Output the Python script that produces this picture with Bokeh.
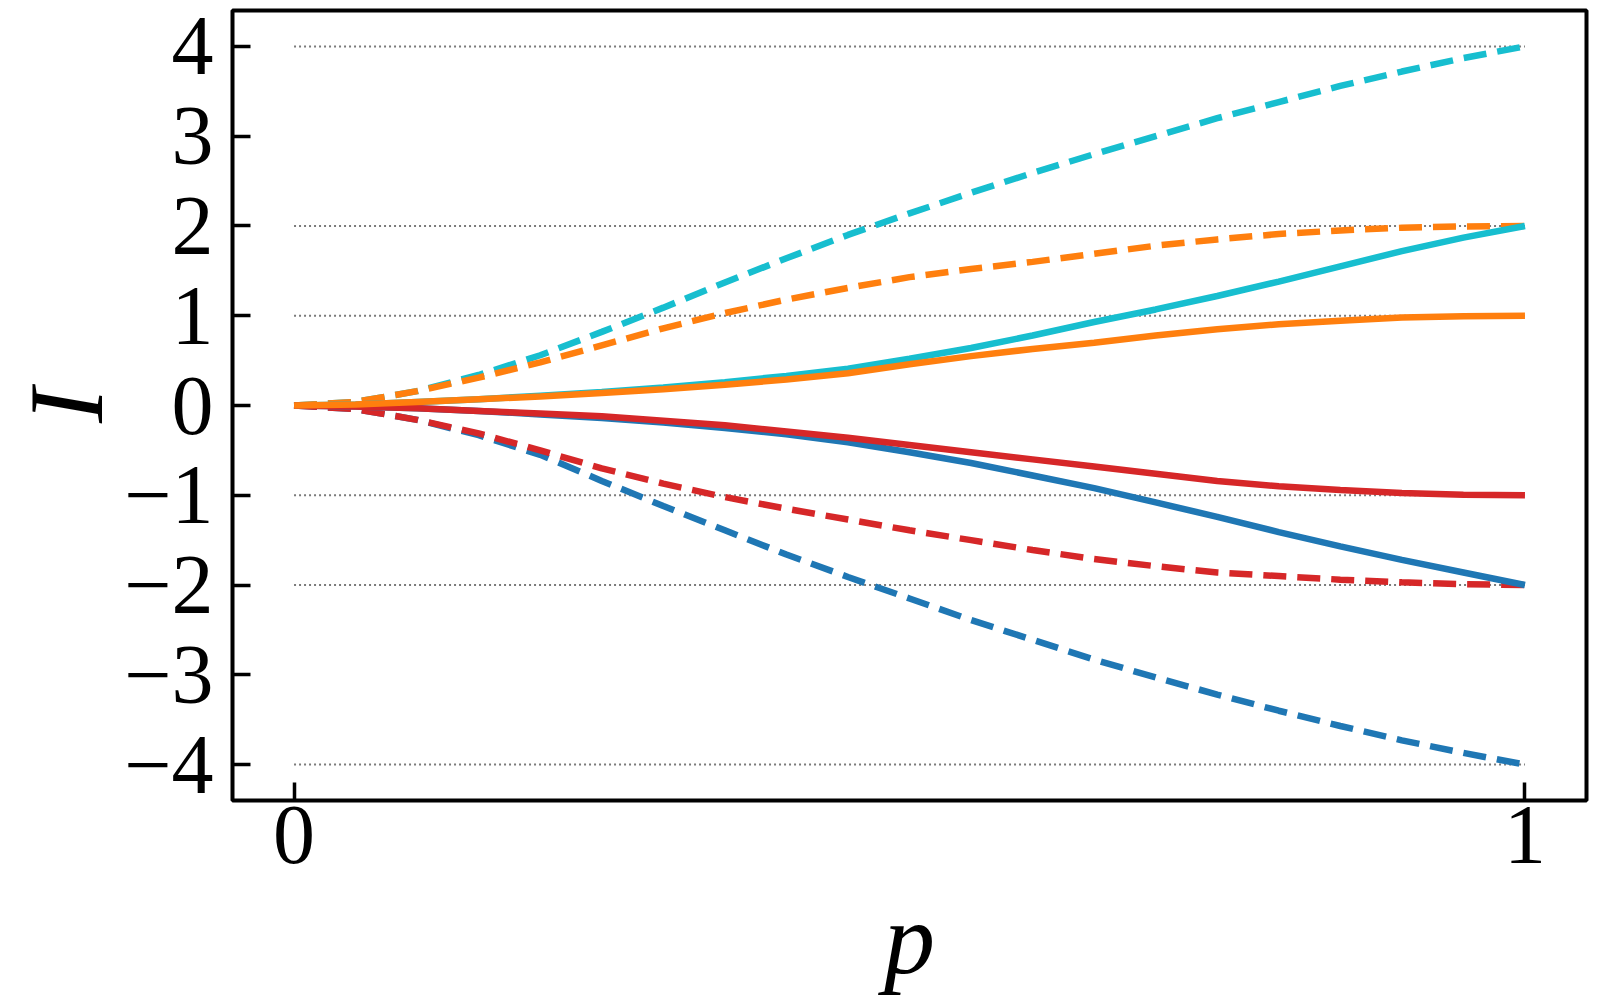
from bokeh.plotting import figure
from bokeh.models import FixedTicker, Range1d
from bokeh.embed import file_html
from bokeh.resources import INLINE

# ---------------- data ----------------
p_vals = [0.0, 0.05, 0.1, 0.15, 0.2, 0.25, 0.3, 0.35, 0.4, 0.45, 0.5,
          0.55, 0.6, 0.65, 0.7, 0.75, 0.8, 0.85, 0.9, 0.95, 1.0]

cyan_dashed = [0.0, 0.04, 0.16, 0.34, 0.56, 0.82, 1.09, 1.37, 1.64, 1.90, 2.14,
               2.37, 2.59, 2.80, 3.00, 3.20, 3.38, 3.56, 3.72, 3.87, 4.0]
orange_dashed = [0.0, 0.04, 0.16, 0.31, 0.48, 0.67, 0.86, 1.03, 1.18, 1.31, 1.43,
                 1.52, 1.60, 1.69, 1.78, 1.85, 1.91, 1.95, 1.98, 1.995, 2.0]
red_dashed = [0.0, -0.04, -0.16, -0.31, -0.50, -0.70, -0.87, -1.02, -1.15, -1.27, -1.39,
              -1.50, -1.61, -1.71, -1.79, -1.86, -1.90, -1.94, -1.97, -1.99, -2.0]
blue_dashed = [0.0, -0.04, -0.16, -0.33, -0.55, -0.84, -1.12, -1.39, -1.66, -1.91, -2.15,
               -2.39, -2.61, -2.83, -3.03, -3.22, -3.40, -3.57, -3.73, -3.87, -4.0]

cyan_solid = [0.0, 0.01, 0.04, 0.07, 0.11, 0.15, 0.20, 0.26, 0.33, 0.41, 0.52,
              0.64, 0.78, 0.93, 1.07, 1.22, 1.38, 1.55, 1.72, 1.87, 2.0]
orange_solid = [0.0, 0.01, 0.04, 0.07, 0.10, 0.14, 0.18, 0.23, 0.29, 0.36, 0.46,
                0.55, 0.63, 0.70, 0.78, 0.85, 0.905, 0.945, 0.98, 0.995, 1.0]
red_solid = [0.0, -0.01, -0.03, -0.06, -0.09, -0.12, -0.17, -0.22, -0.29, -0.36, -0.44,
             -0.52, -0.60, -0.68, -0.76, -0.84, -0.90, -0.94, -0.975, -0.995, -1.0]
blue_solid = [0.0, -0.01, -0.03, -0.06, -0.10, -0.14, -0.19, -0.25, -0.32, -0.41, -0.52,
              -0.64, -0.78, -0.92, -1.08, -1.24, -1.41, -1.57, -1.72, -1.86, -2.0]

ref_levels = [4, 2, 1, -1, -2, -4]

y_ticks = [-4, -3, -2, -1, 0, 1, 2, 3, 4]
y_tick_labels = ["\u22124", "\u22123", "\u22122", "\u22121", "0", "1", "2", "3", "4"]
x_ticks = [0, 1]
x_tick_labels = ["0", "1"]

x_title = "p"
y_title = "I"

# ---------------- figure ----------------
SERIF = "Liberation Serif"
SHIFT = 30  # figure is pulled left so the frame sits at x = 232

fig = figure(width=262 + 1354 + 8, height=1000,
             x_range=Range1d(-0.05, 1.05), y_range=Range1d(-4.4, 4.4),
             output_backend="svg", toolbar_location=None,
             min_border_left=262, min_border_right=8,
             min_border_top=10, min_border_bottom=200,
             margin=(0, 0, 0, -SHIFT))

fig.background_fill_color = "white"
fig.border_fill_color = "white"
fig.outline_line_color = "black"
fig.outline_line_width = 4
fig.outline_line_alpha = 1.0
fig.grid.visible = False

# dotted reference levels
fig.segment(x0=[0] * len(ref_levels), x1=[1] * len(ref_levels),
            y0=ref_levels, y1=ref_levels,
            line_color="#7a7a7a", line_width=2, line_dash="2 3")

CYAN = "#17becf"
ORANGE = "#ff7f0e"
RED = "#d62728"
BLUE = "#1f77b4"
LW = 6.5
DASH = "23 11"

fig.line(p_vals, blue_dashed, line_color=BLUE, line_width=LW, line_dash=DASH)
fig.line(p_vals, cyan_dashed, line_color=CYAN, line_width=LW, line_dash=DASH)
fig.line(p_vals, red_dashed, line_color=RED, line_width=LW, line_dash=DASH)
fig.line(p_vals, orange_dashed, line_color=ORANGE, line_width=LW, line_dash=DASH)
fig.line(p_vals, blue_solid, line_color=BLUE, line_width=LW)
fig.line(p_vals, cyan_solid, line_color=CYAN, line_width=LW)
fig.line(p_vals, red_solid, line_color=RED, line_width=LW)
fig.line(p_vals, orange_solid, line_color=ORANGE, line_width=LW)

# axes
for ax in (fig.xaxis[0], fig.yaxis[0]):
    ax.axis_line_color = None
    ax.major_tick_in = 18
    ax.major_tick_out = 0
    ax.minor_tick_in = 0
    ax.minor_tick_out = 0
    ax.major_tick_line_width = 3.5
    ax.major_tick_line_color = "black"
    ax.major_label_text_font = SERIF
    ax.major_label_text_font_size = "84px"
    ax.major_label_text_color = "black"
    ax.axis_label_text_font = SERIF
    ax.axis_label_text_font_style = "italic"
    ax.axis_label_text_color = "black"

fig.xaxis.ticker = FixedTicker(ticks=x_ticks)
fig.xaxis.major_label_overrides = {t: s for t, s in zip(x_ticks, x_tick_labels)}
fig.yaxis.ticker = FixedTicker(ticks=y_ticks)
fig.yaxis.major_label_overrides = {t: s for t, s in zip(y_ticks, y_tick_labels)}

fig.xaxis.axis_label = x_title
fig.yaxis.axis_label = y_title
fig.xaxis.axis_label_text_font_size = "102px"
fig.yaxis.axis_label_text_font_size = "105px"
fig.xaxis.major_label_standoff = 6
fig.xaxis.axis_label_standoff = 16
fig.yaxis.major_label_standoff = 19
fig.yaxis.axis_label_standoff = -4

open("out.html", "w").write(file_html(fig, INLINE))
